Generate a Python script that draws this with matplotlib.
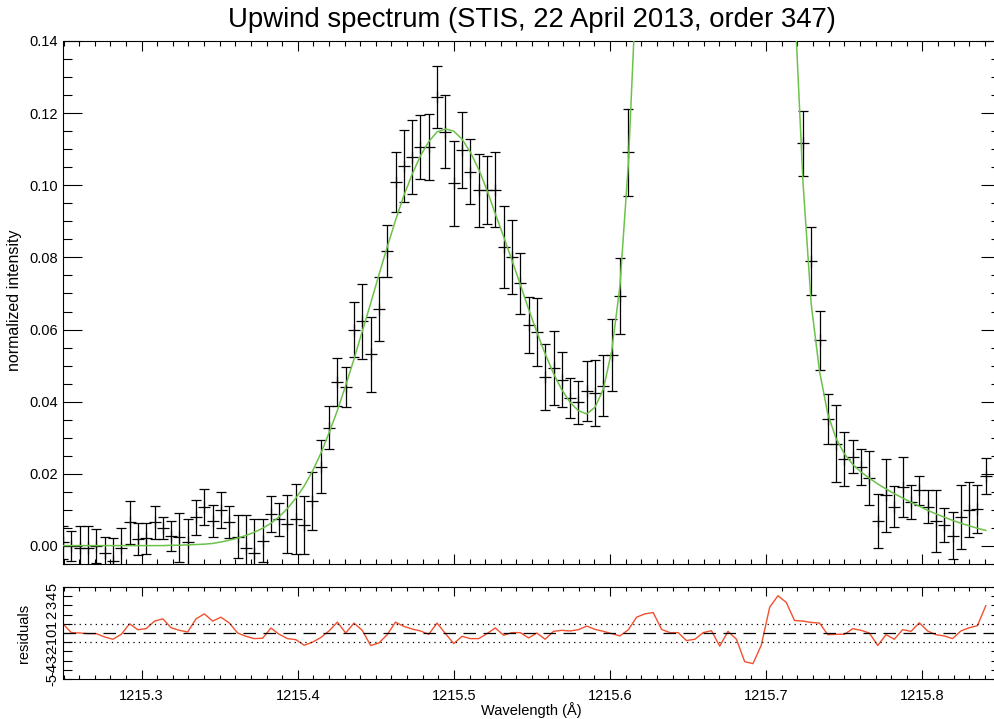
import numpy as np
import matplotlib
matplotlib.use("Agg")
import matplotlib.pyplot as plt
from matplotlib.ticker import MultipleLocator, FormatStrFormatter

plt.rcParams['font.family'] = ['Liberation Sans', 'DejaVu Sans']

# ---------------- data ----------------
wave = [1215.2497, 1215.2550, 1215.2603, 1215.2657, 1215.2710, 1215.2763, 1215.2816, 1215.2870,
        1215.2923, 1215.2976, 1215.3029, 1215.3083, 1215.3136, 1215.3189, 1215.3242, 1215.3295,
        1215.3349, 1215.3402, 1215.3455, 1215.3508, 1215.3562, 1215.3615, 1215.3668, 1215.3721,
        1215.3775, 1215.3828, 1215.3881, 1215.3934, 1215.3987, 1215.4041, 1215.4094, 1215.4147,
        1215.4200, 1215.4254, 1215.4307, 1215.4360, 1215.4413, 1215.4467, 1215.4520, 1215.4573,
        1215.4626, 1215.4679, 1215.4733, 1215.4786, 1215.4839, 1215.4892, 1215.4946, 1215.4999,
        1215.5052, 1215.5105, 1215.5159, 1215.5212, 1215.5265, 1215.5318, 1215.5371, 1215.5425,
        1215.5478, 1215.5531, 1215.5584, 1215.5638, 1215.5691, 1215.5744, 1215.5797, 1215.5851,
        1215.5904, 1215.5957, 1215.6010, 1215.6063, 1215.6117, 1215.6170, 1215.6223, 1215.6276,
        1215.6330, 1215.6383, 1215.6436, 1215.6489, 1215.6543, 1215.6596, 1215.6649, 1215.6702,
        1215.6755, 1215.6809, 1215.6862, 1215.6915, 1215.6968, 1215.7022, 1215.7075, 1215.7128,
        1215.7181, 1215.7235, 1215.7288, 1215.7341, 1215.7394, 1215.7447, 1215.7501, 1215.7554,
        1215.7607, 1215.7660, 1215.7714, 1215.7767, 1215.7820, 1215.7873, 1215.7927, 1215.7980,
        1215.8033, 1215.8086, 1215.8139, 1215.8193, 1215.8246, 1215.8299, 1215.8352, 1215.8406]

nan = np.nan
# points in the line core (off the top of the plot) are not visible
flux = [0.0010, 0.0000, -0.0006, -0.0006, 0.0000, -0.0019, -0.0042, -0.0006,
        0.0066, 0.0019, 0.0021, 0.0066, 0.0049, 0.0028, 0.0024, 0.0012,
        0.0079, 0.0108, 0.0069, 0.0100, 0.0066, 0.0026, -0.0006, -0.0019,
        0.0015, 0.0089, 0.0074, 0.0060, 0.0075, 0.0059, 0.0125, 0.0220,
        0.0328, 0.0454, 0.0440, 0.0600, 0.0623, 0.0531, 0.0656, 0.0818,
        0.1010, 0.1054, 0.1079, 0.1107, 0.1106, 0.1245, 0.1149, 0.1005,
        0.1097, 0.1038, 0.0986, 0.0987, 0.0988, 0.0829, 0.0801, 0.0728,
        0.0612, 0.0593, 0.0469, 0.0493, 0.0461, 0.0410, 0.0398, 0.0429,
        0.0424, 0.0444, 0.0530, 0.0693, 0.1091, nan, nan, nan,
        nan, nan, nan, nan, nan, nan, nan, nan,
        nan, nan, nan, nan, nan, nan, nan, nan,
        nan, 0.1117, 0.0790, 0.0570, 0.0352, 0.0283, 0.0241, 0.0248,
        0.0219, 0.0188, 0.0069, 0.0140, 0.0109, 0.0163, 0.0123, 0.0154,
        0.0109, 0.0070, 0.0058, 0.0029, 0.0081, 0.0100, 0.0103, 0.0195]

err = [0.0045, 0.0042, 0.0060, 0.0060, 0.0047, 0.0045, 0.0063, 0.0057,
       0.0060, 0.0044, 0.0042, 0.0046, 0.0030, 0.0042, 0.0068, 0.0064,
       0.0048, 0.0050, 0.0045, 0.0051, 0.0044, 0.0060, 0.0092, 0.0093,
       0.0060, 0.0050, 0.0045, 0.0080, 0.0096, 0.0080, 0.0081, 0.0074,
       0.0060, 0.0066, 0.0056, 0.0076, 0.0104, 0.0105, 0.0089, 0.0072,
       0.0083, 0.0100, 0.0102, 0.0089, 0.0091, 0.0087, 0.0100, 0.0118,
       0.0105, 0.0091, 0.0102, 0.0095, 0.0103, 0.0114, 0.0103, 0.0084,
       0.0077, 0.0095, 0.0092, 0.0103, 0.0076, 0.0055, 0.0060, 0.0083,
       0.0091, 0.0085, 0.0100, 0.0106, 0.0120, nan, nan, nan,
       nan, nan, nan, nan, nan, nan, nan, nan,
       nan, nan, nan, nan, nan, nan, nan, nan,
       nan, 0.0090, 0.0093, 0.0082, 0.0069, 0.0107, 0.0075, 0.0047,
       0.0050, 0.0074, 0.0076, 0.0102, 0.0057, 0.0083, 0.0047, 0.0040,
       0.0046, 0.0086, 0.0047, 0.0066, 0.0089, 0.0076, 0.0067, 0.0050]

model = [0.0001, 0.0001, 0.0001, 0.0001, 0.0001, 0.0001, 0.0001, 0.0001,
         0.0001, 0.0001, 0.0001, 0.0001, 0.0001, 0.0002, 0.0002, 0.0003,
         0.0004, 0.0005, 0.0007, 0.0011, 0.0016, 0.0022, 0.0029, 0.0038,
         0.0049, 0.0063, 0.0081, 0.0104, 0.0132, 0.0166, 0.0207, 0.0256,
         0.0313, 0.0376, 0.0445, 0.0518, 0.0595, 0.0673, 0.0752, 0.0829,
         0.0903, 0.0971, 0.1031, 0.1082, 0.1121, 0.1148, 0.1156, 0.1150,
         0.1128, 0.1092, 0.1044, 0.0986, 0.0921, 0.0858, 0.0793, 0.0725,
         0.0657, 0.0593, 0.0533, 0.0478, 0.0433, 0.0398, 0.0375, 0.0366,
         0.0385, 0.0435, 0.0540, 0.0720, 0.1060, 0.1580, nan, nan,
         nan, nan, nan, nan, nan, nan, nan, nan,
         nan, nan, nan, nan, nan, nan, nan, nan,
         0.1515, 0.1010, 0.0670, 0.0485, 0.0366, 0.0298, 0.0255, 0.0226,
         0.0205, 0.0188, 0.0172, 0.0158, 0.0145, 0.0133, 0.0121, 0.0110,
         0.0099, 0.0089, 0.0080, 0.0071, 0.0063, 0.0056, 0.0049, 0.0043]

resid = [1.00, 0.04, 0.00, -0.07, -0.07, -0.43, -0.68, -0.14,
         1.00, 0.36, 0.47, 1.29, 1.54, 0.57, 0.29, 0.11,
         1.54, 2.08, 1.29, 1.72, 1.08, 0.00, -0.36, -0.61,
         -0.57, 0.54, -0.14, -0.61, -0.72, -1.33, -1.00, -0.50,
         0.22, 1.18, 0.00, 1.08, 0.29, -1.36, -1.08, -0.18,
         1.18, 0.72, 0.43, 0.22, -0.14, 1.08, -0.07, -1.15,
         -0.36, -0.61, -0.61, -0.07, 0.55, -0.25, 0.04, 0.04,
         -0.54, 0.00, -0.68, 0.18, 0.29, 0.22, 0.36, 0.75,
         0.39, 0.18, -0.07, -0.32, 0.36, 1.72, 2.08, 2.22,
         0.39, 0.04, 0.04, -0.82, -0.68, 0.04, 0.25, -1.43,
         0.18, -0.68, -3.12, -3.33, -1.33, 2.80, 4.05, 3.33,
         1.36, 1.29, 1.15, 1.08, -0.18, -0.14, -0.14, 0.47,
         0.29, 0.00, -1.36, -0.18, -0.68, 0.36, 0.18, 1.11,
         0.22, -0.18, -0.32, -0.61, 0.22, 0.57, 0.79, 2.97]

res_ticks = [-5, -4, -3, -2, -1, 0, 1, 2, 3, 4, 5]

# ---------------- figure ----------------
W, H = 995, 719
fig = plt.figure(figsize=(W / 100, H / 100), dpi=100)

def box(x0, y0, x1, y1):
    return [x0 / W, 1 - y1 / H, (x1 - x0) / W, (y1 - y0) / H]

ax = fig.add_axes(box(63.5, 41, 1000.5, 564))
axr = fig.add_axes(box(63.5, 587, 1000.5, 679))

green = '#6cc24a'
red = '#f2502e'

ax.errorbar(wave, flux, yerr=err, fmt='+', color='black', ms=9, mew=0.9,
            elinewidth=0.9, capsize=3.9, capthick=0.9, zorder=2)
ax.plot(wave, model, color=green, lw=1.1, zorder=3)

ax.set_xlim(1215.25, 1215.85)
ax.set_ylim(-0.005, 0.14)
ax.yaxis.set_major_locator(MultipleLocator(0.02))
ax.yaxis.set_minor_locator(MultipleLocator(0.005))
ax.yaxis.set_major_formatter(FormatStrFormatter('%.2f'))
ax.xaxis.set_major_locator(MultipleLocator(0.1))
ax.xaxis.set_minor_locator(MultipleLocator(0.01))
ax.tick_params(which='both', direction='in', top=True, right=True,
               labelbottom=False, width=0.8, labelsize=10.5, pad=4)
ax.yaxis.set_tick_params(which='major', length=13.4)
ax.yaxis.set_tick_params(which='minor', length=6.7)
ax.xaxis.set_tick_params(which='major', length=7.5)
ax.xaxis.set_tick_params(which='minor', length=3.7)

# residual panel
axr.plot(wave, resid, color=red, lw=1.0)
axr.axhline(0, color='black', lw=0.9, ls=(0, (10, 6)))
axr.axhline(1, color='black', lw=0.9, ls=(0, (1, 3.3)))
axr.axhline(-1, color='black', lw=0.9, ls=(0, (1, 3.3)))
axr.set_xlim(1215.25, 1215.85)
axr.set_ylim(-5, 5)
axr.set_yticks(res_ticks)
axr.set_yticklabels([str(t) for t in res_ticks], rotation=90, va='center')
axr.xaxis.set_major_locator(MultipleLocator(0.1))
axr.xaxis.set_minor_locator(MultipleLocator(0.01))
axr.xaxis.set_major_formatter(FormatStrFormatter('%.1f'))
axr.tick_params(which='both', direction='in', top=True, right=True,
                width=0.8, labelsize=10.5)
axr.yaxis.set_tick_params(which='major', length=6.5, pad=3)
axr.xaxis.set_tick_params(which='major', length=6.5, pad=7)
axr.xaxis.set_tick_params(which='minor', length=3.2)

for a in (ax, axr):
    for s in a.spines.values():
        s.set_linewidth(0.8)

fig.text(531.5 / W, 1 - 27 / H, 'Upwind spectrum (STIS, 22 April 2013, order 347)',
         ha='center', va='baseline', fontsize=19.8)
fig.text(15 / W, 1 - 300 / H, 'normalized intensity', rotation=90,
         ha='center', va='center', fontsize=11.5)
fig.text(24 / W, 1 - 633 / H, 'residuals', rotation=90,
         ha='center', va='center', fontsize=10.5)
fig.text(531 / W, 1 - 710 / H, 'Wavelength (Å)', ha='center', va='center',
         fontsize=10.5)

fig.savefig('out.png', dpi=100)
